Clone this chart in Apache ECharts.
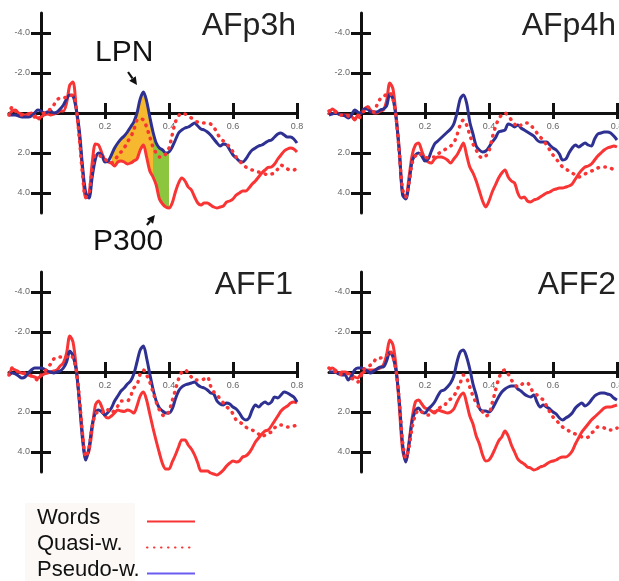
<!DOCTYPE html>
<html><head><meta charset="utf-8">
<script src="https://cdn.jsdelivr.net/npm/echarts@6.0.0/dist/echarts.min.js"></script>
<style>html,body{margin:0;padding:0;background:#fff}#c{width:619px;height:581px}</style>
</head><body><div id="c"></div>
<script>
// ---------- data ----------
const times = [-0.10,-0.09,-0.08,-0.07,-0.06,-0.05,-0.04,-0.03,-0.02,-0.01,
 0.00,0.01,0.02,0.03,0.04,0.05,0.06,0.07,0.08,0.09,
 0.10,0.11,0.12,0.13,0.14,0.15,0.16,0.17,0.18,0.19,
 0.20,0.21,0.22,0.23,0.24,0.25,0.26,0.27,0.28,0.29,
 0.30,0.31,0.32,0.33,0.34,0.35,0.36,0.37,0.38,0.39,
 0.40,0.41,0.42,0.43,0.44,0.45,0.46,0.47,0.48,0.49,
 0.50,0.51,0.52,0.53,0.54,0.55,0.56,0.57,0.58,0.59,
 0.60,0.61,0.62,0.63,0.64,0.65,0.66,0.67,0.68,0.69,
 0.70,0.71,0.72,0.73,0.74,0.75,0.76,0.77,0.78,0.79,0.80];

const xTickValues = [0.2, 0.4, 0.6, 0.8];
const yTickValues = [-4, -2, 2, 4];
const seriesNames = ['Words', 'Quasi-w.', 'Pseudo-w.'];
const panelTitles = ['AFp3h', 'AFp4h', 'AFF1', 'AFF2'];

// AFp3h
const afp3hWords = [0.1,-0.1,-0.15,0.0,0.05,0.1,0.05,0.0,0.1,0.25,
 0.2,0.1,0.05,0.1,0.05,0.0,-0.1,-0.1,-0.5,-1.4,
 -1.55,-0.25,1.2,2.9,4.25,4.05,2.5,1.55,1.6,2.0,
 2.35,2.45,2.5,2.65,2.45,2.4,2.45,2.55,2.5,2.4,
 2.3,1.85,1.6,2.2,2.9,3.2,3.6,4.3,4.55,4.7,
 4.75,4.5,3.95,3.5,3.25,3.4,3.7,3.85,4.2,4.5,
 4.6,4.5,4.5,4.6,4.7,4.75,4.7,4.65,4.45,4.4,
 4.3,4.1,4.0,3.9,3.9,3.75,3.55,3.4,3.2,3.0,
 2.85,2.72,2.7,2.55,2.3,2.1,1.9,1.8,1.75,1.8,1.95];
const afp3hQuasi = [0.1,-0.3,-0.1,0.0,0.1,0.1,0.05,0.05,0.2,0.35,
 0.1,0.0,-0.1,-0.2,-0.4,-0.65,-0.75,-0.75,-0.8,-0.85,
 -0.9,-0.3,1.3,3.1,4.2,4.05,2.8,2.1,2.1,2.2,
 2.3,2.45,2.5,2.35,2.15,1.95,1.75,1.45,1.2,0.85,
 0.35,0.28,0.35,0.7,1.2,1.7,2.0,2.2,2.2,2.05,
 1.75,1.1,0.45,0.15,0.0,0.05,0.15,0.25,0.35,0.45,
 0.45,0.5,0.5,0.55,0.7,1.0,1.25,1.4,1.55,1.7,
 1.95,2.2,2.4,2.55,2.7,2.8,2.85,2.9,2.95,3.0,
 3.05,3.1,3.05,3.0,2.8,2.6,2.7,2.8,2.85,2.85,2.75];
const afp3hPseudo = [0.1,0.1,0.1,0.15,0.2,0.2,0.2,0.15,0.0,-0.15,
 -0.1,0.0,-0.05,-0.1,0.0,-0.05,-0.2,-0.4,-0.7,-0.9,
 -0.85,-0.2,0.9,2.7,4.0,4.25,3.2,2.3,2.0,2.1,
 2.45,2.4,2.1,1.75,1.5,1.3,1.15,0.95,0.7,0.45,
 0.0,-0.7,-1.05,-0.6,0.2,0.95,1.5,1.75,1.85,2.0,
 1.95,1.7,1.35,1.0,0.85,0.75,0.7,0.6,0.5,0.65,
 0.8,0.85,0.95,1.1,1.3,1.5,1.65,1.55,1.6,1.85,
 2.1,2.25,2.4,2.45,2.3,2.05,1.85,1.75,1.65,1.6,
 1.5,1.4,1.35,1.2,1.05,1.0,1.1,1.2,1.2,1.3,1.5];

// AFp4h
const afp4hWords = [0.1,-0.2,-0.1,0.05,0.1,0.1,0.1,0.15,0.35,0.1,
 0.0,-0.2,-0.3,-0.15,0.0,0.0,-0.1,-0.15,-0.6,-1.5,
 -1.2,0.2,1.9,4.0,4.2,3.2,2.1,1.6,1.5,1.9,
 2.3,2.45,2.5,2.3,2.2,2.2,2.25,2.35,2.5,2.3,
 2.1,1.8,1.5,2.1,2.7,3.0,3.4,3.9,4.4,4.7,
 4.4,3.95,3.6,3.25,3.0,2.85,3.2,3.4,3.5,4.0,
 4.25,4.2,4.4,4.45,4.35,4.3,4.2,4.1,4.0,3.95,
 3.85,3.8,3.75,3.75,3.7,3.65,3.55,3.3,3.05,2.85,
 2.7,2.65,2.55,2.35,2.15,2.0,1.85,1.75,1.7,1.65,1.7];
const afp4hQuasi = [-0.1,-0.15,-0.05,0.1,0.1,0.1,0.15,0.25,0.3,0.35,
 0.1,-0.1,-0.3,-0.2,-0.05,-0.4,-0.7,-0.8,-0.95,-1.0,
 -0.7,0.3,2.1,3.8,4.2,3.5,2.5,2.15,2.0,2.1,
 2.2,2.25,2.2,2.2,2.05,1.95,1.85,1.75,1.65,1.5,
 1.1,0.6,0.35,0.6,1.1,1.55,1.85,2.15,2.25,2.15,
 1.9,1.25,0.7,0.3,0.1,0.0,0.15,0.35,0.55,0.7,
 0.6,0.5,0.5,0.6,0.8,1.0,1.2,1.35,1.6,1.85,
 2.1,2.3,2.5,2.7,2.8,2.9,3.0,3.1,3.2,3.15,
 3.05,2.95,2.9,2.85,2.75,2.7,2.7,2.7,2.75,2.85,2.95];
const afp4hPseudo = [0.1,0.05,0.0,0.05,0.1,0.15,0.25,0.1,-0.15,-0.05,
 0.0,-0.2,-0.2,-0.05,-0.05,-0.05,-0.15,-0.2,-0.35,-0.95,
 -0.7,0.3,2.0,4.1,4.3,3.5,2.4,2.1,2.0,2.15,
 2.4,2.3,1.9,1.55,1.4,1.25,1.1,0.95,0.8,0.55,
 0.0,-0.7,-0.9,-0.5,0.45,1.05,1.65,1.85,1.95,1.9,
 1.7,1.45,1.25,0.95,0.9,0.85,0.55,0.6,0.7,0.6,
 0.75,0.85,0.95,1.05,1.15,1.35,1.45,1.45,1.45,1.6,
 1.75,1.85,2.05,2.35,2.3,2.0,1.75,1.6,1.7,1.6,
 1.5,1.6,1.65,1.3,1.05,1.0,0.95,0.95,1.0,1.15,1.35];

// AFF1
const aff1Words = [0.15,-0.15,-0.1,0.0,0.05,0.1,0.15,0.2,0.25,0.3,
 0.2,0.1,0.05,0.0,-0.05,-0.1,-0.3,-0.45,-0.95,-1.8,
 -1.5,-0.25,1.4,3.1,4.25,3.95,2.85,1.65,1.45,1.75,
 2.2,2.3,2.2,2.05,1.9,1.95,1.98,1.9,1.95,2.05,
 1.7,1.2,1.0,1.4,2.1,2.8,3.45,4.05,4.6,4.85,
 4.85,4.5,4.15,3.75,3.4,3.4,3.65,3.85,4.15,4.55,
 4.95,4.95,4.95,5.05,5.1,5.15,5.05,4.9,4.7,4.55,
 4.45,4.5,4.45,4.25,4.2,4.05,3.8,3.5,3.3,3.1,
 2.95,2.9,2.7,2.45,2.2,1.95,1.8,1.7,1.55,1.5,1.55];
const aff1Quasi = [0.15,-0.2,-0.1,0.0,0.05,0.05,0.1,0.2,0.3,0.4,
 0.15,0.0,-0.2,-0.4,-0.65,-0.75,-0.75,-0.7,-0.75,-0.85,
 -0.7,-0.1,1.3,3.2,4.25,3.8,2.75,2.1,2.0,2.05,
 1.85,1.9,2.05,1.9,1.7,1.45,1.45,1.45,1.2,0.8,
 0.65,0.1,-0.1,0.15,0.5,1.0,1.5,1.9,2.15,2.2,
 1.95,1.45,0.9,0.35,0.0,-0.1,0.05,0.25,0.4,0.4,
 0.4,0.35,0.25,0.7,1.0,1.15,1.35,1.55,1.75,1.85,
 2.1,2.4,2.5,2.6,2.75,2.85,2.9,3.0,3.1,3.25,
 3.15,3.05,3.0,2.8,2.65,2.65,2.7,2.75,2.75,2.7,2.65];
const aff1Pseudo = [0.15,0.05,0.1,0.2,0.3,0.25,0.05,-0.1,-0.2,-0.2,
 -0.2,-0.15,-0.05,0.0,0.05,0.0,-0.05,-0.2,-0.5,-1.05,
 -0.8,-0.1,1.5,3.4,4.4,3.8,2.65,2.05,1.9,2.0,
 2.15,2.0,1.8,1.45,1.2,0.95,0.8,0.6,0.45,0.1,
 -0.5,-1.1,-1.3,-0.7,0.1,0.85,1.45,1.8,1.95,2.05,
 2.05,1.85,1.35,0.95,0.75,0.65,0.6,0.55,0.5,0.65,
 0.75,0.8,0.9,1.05,1.1,1.45,1.6,1.65,1.55,1.6,
 1.75,1.85,2.05,2.3,2.4,2.3,1.9,1.65,1.75,1.6,
 1.5,1.6,1.5,1.25,1.3,1.15,1.0,1.05,1.15,1.25,1.5];

// AFF2
const aff2Words = [-0.1,-0.2,-0.1,0.05,0.0,0.0,0.05,0.15,0.25,0.3,
 0.1,0.0,-0.1,-0.1,-0.1,-0.15,-0.2,-0.35,-0.85,-1.6,
 -1.35,-0.2,1.8,3.9,4.45,3.5,2.3,1.5,1.4,1.6,
 1.8,1.85,1.95,2.05,1.9,1.95,2.0,2.05,2.0,1.85,
 1.5,1.2,1.05,1.55,2.2,2.6,3.2,3.6,4.15,4.45,
 4.4,4.15,3.8,3.45,3.25,2.95,3.2,3.65,4.0,4.35,
 4.5,4.6,4.75,4.8,4.9,4.85,4.75,4.7,4.6,4.5,
 4.45,4.4,4.3,4.25,4.25,4.15,3.95,3.6,3.3,3.0,
 2.8,2.6,2.4,2.25,2.1,1.95,1.8,1.75,1.75,1.7,1.65];
const aff2Quasi = [-0.2,-0.1,0.0,0.15,0.1,0.05,0.1,0.3,0.4,0.5,
 0.2,-0.15,-0.25,-0.35,-0.5,-0.7,-0.7,-0.75,-0.85,-1.05,
 -0.75,0.0,1.5,3.5,4.3,3.75,2.75,2.15,1.9,2.0,
 2.05,2.15,2.05,2.0,1.85,1.75,1.7,1.45,1.35,1.2,
 0.9,0.55,0.15,0.3,0.75,1.2,1.55,1.8,2.0,2.2,
 2.1,1.55,0.95,0.35,0.0,-0.1,0.1,0.4,0.6,0.75,
 0.65,0.55,0.55,0.8,1.05,1.15,1.3,1.4,1.7,2.0,
 2.25,2.4,2.6,2.75,2.85,2.95,3.05,3.1,3.15,3.25,
 3.3,3.25,3.05,2.95,2.75,2.75,2.8,2.9,2.9,2.9,2.8];
const aff2Pseudo = [0.0,0.0,0.0,0.1,0.15,0.15,0.4,0.2,-0.1,-0.2,
 -0.2,-0.15,-0.05,0.05,-0.05,-0.15,-0.25,-0.25,-0.55,-1.0,
 -0.75,0.0,1.5,3.6,4.5,3.65,2.45,1.95,1.8,2.0,
 2.05,1.85,1.7,1.5,1.2,0.95,0.9,0.75,0.55,0.2,
 -0.5,-1.0,-1.1,-0.75,-0.15,0.6,1.15,1.8,1.95,1.95,
 2.0,1.85,1.55,1.25,1.0,0.85,0.75,0.7,0.7,0.85,
 0.95,1.1,1.2,1.25,1.15,1.5,1.75,1.65,1.75,1.85,
 2.0,2.1,2.3,2.4,2.3,2.2,2.05,1.8,1.65,1.55,
 1.7,1.6,1.4,1.2,1.1,1.05,1.05,1.1,1.15,1.3,1.4];

// shaded windows in AFp3h (seconds)
const lpnWindow = [0.22, 0.35];
const p300Window = [0.35, 0.40];

// annotation anchors in AFp3h data coordinates [time, µV]
const lpnArrow = {from: [0.272, -2.05], to: [0.300, -1.40]};
const p300Arrow = {from: [0.331, 5.60], to: [0.356, 5.10]};
const lpnLabelAt = [0.169, -2.5];
const p300LabelAt = [0.1625, 6.95];

// ---------- styles / layout ----------
const FONT = '"Liberation Sans", Arial, Helvetica, sans-serif';
const RED = '#f83434', NAVY = '#2e3192', ORANGE = '#f6b82e', GREEN = '#8cc63f';
const gridPos = [{left: 9, top: 13}, {left: 329, top: 13}, {left: 9, top: 272}, {left: 329, top: 272}];
const PW = 288, PH = 200;
const panelData = [
  [afp3hWords, afp3hQuasi, afp3hPseudo],
  [afp4hWords, afp4hQuasi, afp4hPseudo],
  [aff1Words, aff1Quasi, aff1Pseudo],
  [aff2Words, aff2Quasi, aff2Pseudo]
];

const pairs = arr => times.map((t, i) => [t, arr[i]]);
const axisLineStyle = {color: '#111', width: 3};
const fmt = v => Number(v).toFixed(1);
// labels stay at the grid edge in this ECharts build, so pull them to the zero-crossing axes
const X_LABEL_MARGIN = -91, Y_LABEL_MARGIN = -21;

const grids = [], xAxes = [], yAxes = [], series = [];
gridPos.forEach((g, k) => {
  grids.push({left: g.left, top: g.top, width: PW, height: PH, containLabel: false, outerBoundsMode: 'none'});
  xAxes.push({
    gridIndex: k, type: 'value', min: -0.1, max: 0.8, position: 'bottom',
    axisLine: {show: true, onZero: true, lineStyle: axisLineStyle},
    axisTick: {show: true, customValues: xTickValues, length: 6, lineStyle: axisLineStyle},
    axisLabel: {show: true, customValues: xTickValues, formatter: fmt, color: '#666', fontSize: 9, fontFamily: FONT, margin: X_LABEL_MARGIN},
    splitLine: {show: false}
  });
  xAxes.push({
    gridIndex: k, type: 'value', min: -0.1, max: 0.8, position: 'top',
    axisLine: {show: false, onZero: true},
    axisTick: {show: true, customValues: xTickValues, length: 10, lineStyle: axisLineStyle},
    axisLabel: {show: false}, splitLine: {show: false}
  });
  yAxes.push({
    gridIndex: k, type: 'value', min: -5, max: 5, inverse: true, position: 'left',
    axisLine: {show: true, onZero: true, lineStyle: axisLineStyle},
    axisTick: {show: true, customValues: yTickValues, length: 10, lineStyle: axisLineStyle},
    axisLabel: {show: true, customValues: yTickValues, formatter: fmt, color: '#666', fontSize: 9, fontFamily: FONT, margin: Y_LABEL_MARGIN},
    splitLine: {show: false}
  });
  yAxes.push({
    gridIndex: k, type: 'value', min: -5, max: 5, inverse: true, position: 'right',
    axisLine: {show: false, onZero: true},
    axisTick: {show: true, customValues: yTickValues, length: 10, lineStyle: axisLineStyle},
    axisLabel: {show: false}, splitLine: {show: false}
  });
});

// shaded difference areas between pseudo-word and word curves in AFp3h
function windowIdx(w) {
  const out = [];
  times.forEach((t, i) => { if (t >= w[0] - 1e-9 && t <= w[1] + 1e-9) out.push(i); });
  return out;
}
function addFill(win, color) {
  const idx = windowIdx(win);
  series.push({
    type: 'custom', xAxisIndex: 0, yAxisIndex: 0, silent: true, z: 1, clip: false,
    data: [[win[0], 0]],
    renderItem: function (params, api) {
      const top = idx.map(i => api.coord([times[i], afp3hPseudo[i]]));
      const bottom = idx.slice().reverse().map(i => api.coord([times[i], afp3hWords[i]]));
      return {type: 'polygon', shape: {points: top.concat(bottom)}, style: {fill: color, stroke: null}};
    }
  });
}
addFill(lpnWindow, ORANGE);
addFill(p300Window, GREEN);

const lineStyles = [
  {color: RED, width: 3},
  {color: RED, width: 3.5, type: [0.5, 6.5], cap: 'round'},
  {color: NAVY, width: 3}
];
const drawOrder = [0, 2, 1];
panelData.forEach((arrs, k) => {
  drawOrder.forEach(j => {
    series.push({
      name: seriesNames[j], type: 'line', xAxisIndex: 2 * k, yAxisIndex: 2 * k,
      data: pairs(arrs[j]), symbol: 'none', showSymbol: false, smooth: 0.3, clip: false,
      lineStyle: lineStyles[j], itemStyle: {color: lineStyles[j].color},
      emphasis: {disabled: true}, silent: true, z: 3
    });
  });
});

const chart = echarts.init(document.getElementById('c'), null, {renderer: 'canvas'});
chart.setOption({
  backgroundColor: '#ffffff',
  animation: false,
  grid: grids, xAxis: xAxes, yAxis: yAxes, series: series,
  legend: {
    orient: 'vertical', left: 37, top: 507, height: 100, padding: 0, align: 'right',
    itemWidth: 48, itemHeight: 12, itemGap: -3, selectedMode: false,
    formatter: name => '{n|' + name + '}',
    textStyle: {rich: {n: {width: 105, align: 'left', fontSize: 22, lineHeight: 19, padding: [0, 0, 7, 0], fontFamily: FONT, color: '#111'}}},
    itemStyle: {opacity: 0},
    lineStyle: {width: 2},
    data: [{name: 'Words'}, {name: 'Quasi-w.'}, {name: 'Pseudo-w.', lineStyle: {color: '#6a5cf0', width: 2}}]
  }
});

// ---------- annotations (positioned through the chart's own scales) ----------
function px(p) { return chart.convertToPixel({gridIndex: 0}, p); }
function arrowEls(a) {
  const p0 = px(a.from), p1 = px(a.to);
  const dx = p1[0] - p0[0], dy = p1[1] - p0[1], L = Math.hypot(dx, dy);
  const ux = dx / L, uy = dy / L, nx = -uy, ny = ux;
  const hl = 8, hw = 4;
  const bx = p1[0] - ux * hl, by = p1[1] - uy * hl;
  return [
    {type: 'line', shape: {x1: p0[0], y1: p0[1], x2: bx, y2: by}, style: {stroke: '#111', lineWidth: 2.2}, z: 10, silent: true},
    {type: 'polygon', shape: {points: [[p1[0], p1[1]], [bx + nx * hw, by + ny * hw], [bx - nx * hw, by - ny * hw]]}, style: {fill: '#111'}, z: 10, silent: true}
  ];
}
function labelEl(text, at, size) {
  const p = px(at);
  return {type: 'text', x: p[0], y: p[1] - 0.35 * size, z: 10, silent: true,
    style: {text: text, fill: '#111', font: size + 'px ' + FONT, align: 'left', verticalAlign: 'middle'}};
}
const titlePos = [{x: 296, y: 26}, {x: 616, y: 26}, {x: 293, y: 285}, {x: 616, y: 285}];
const graphics = [
  {type: 'rect', shape: {x: 25, y: 503, width: 110, height: 78}, style: {fill: '#fcf8f6'}, z: -10, silent: true}
];
panelTitles.forEach((t, k) => graphics.push({type: 'text', x: titlePos[k].x, y: titlePos[k].y, silent: true, z: 10,
  style: {text: t, fill: '#222', font: '32px ' + FONT, align: 'right', verticalAlign: 'middle'}}));
graphics.push(labelEl('LPN', lpnLabelAt, 30));
graphics.push(labelEl('P300', p300LabelAt, 30));
graphics.push(...arrowEls(lpnArrow), ...arrowEls(p300Arrow));
chart.setOption({graphic: graphics});
</script></body></html>
